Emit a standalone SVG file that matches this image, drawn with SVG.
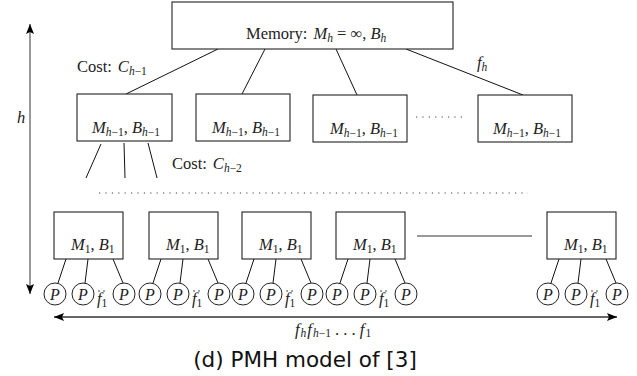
<svg xmlns="http://www.w3.org/2000/svg" width="637" height="376" viewBox="0 0 637 376">
<style>
.box{fill:#fff;stroke:#222;stroke-width:1.1}
.cn{stroke:#111;stroke-width:1;fill:none}
.gr{stroke:#777;stroke-width:1.5;fill:none}
.m{font-family:"Liberation Serif",serif;font-style:italic;font-size:16.5px;fill:#222}
.r{font-style:normal}
.s{font-size:11.5px}
.pc{fill:#fff;stroke:#222;stroke-width:1}
.pt{font-family:"Liberation Serif",serif;font-style:italic;font-size:16px;fill:#222;text-anchor:middle}
.dot{stroke:#444;stroke-width:1.2;stroke-dasharray:1.2 5.2;fill:none}
.cap{font-family:"DejaVu Sans",sans-serif;font-size:21.5px;fill:#111;text-anchor:middle}
</style>
<defs>
<marker id="ah" viewBox="0 0 10 8" refX="10" refY="4" markerWidth="10" markerHeight="8" orient="auto-start-reverse" markerUnits="userSpaceOnUse">
<path d="M0,0 L10,4 L0,8 L2,4 z" fill="#000"/>
</marker>
<g id="pset">
<circle class="pc" cx="1" cy="294" r="11"/><text class="pt" x="1" y="299.5">P</text>
<circle class="pc" cx="29" cy="294" r="11"/><text class="pt" x="29" y="299.5">P</text>
<circle class="pc" cx="70" cy="294" r="11"/><text class="pt" x="70" y="299.5">P</text>
</g>
</defs>

<g id="connectors">
<line class="cn" x1="218" y1="49" x2="126" y2="94"/>
<line class="cn" x1="265" y1="49" x2="242" y2="94"/>
<line class="cn" x1="336" y1="49" x2="357" y2="95"/>
<line class="cn" x1="406" y1="49" x2="523" y2="95"/>
<line class="cn" x1="101" y1="144" x2="86" y2="178"/>
<line class="cn" x1="124" y1="143" x2="125" y2="178"/>
<line class="cn" x1="148" y1="143" x2="157" y2="178"/>
<g id="c1">
<line class="cn" x1="66" y1="259" x2="58" y2="283"/>
<line class="cn" x1="88" y1="259" x2="85" y2="283"/>
<line class="cn" x1="113" y1="259" x2="123" y2="283"/>
</g>
<use href="#c1" x="95"/>
<use href="#c1" x="188"/>
<use href="#c1" x="282"/>
<use href="#c1" x="493"/>
<line class="gr" x1="417" y1="236" x2="532" y2="236"/>
<line class="gr" x1="30" y1="24" x2="30" y2="294" marker-start="url(#ah)" marker-end="url(#ah)"/>
<line x1="54" y1="317" x2="617" y2="317" style="stroke:#333;stroke-width:1.3" marker-start="url(#ah)" marker-end="url(#ah)"/>
<line class="dot" x1="99" y1="193" x2="528" y2="193"/>
<line class="dot" x1="416" y1="117" x2="464" y2="117"/>
</g>

<g id="memory">
<rect class="box" x="172" y="2" width="281" height="47"/>
<text class="m" x="246" y="39"><tspan class="r">Memory:</tspan><tspan dx="6">M</tspan><tspan class="s" dy="3">h</tspan><tspan class="r" dy="-3"> = ∞, </tspan>B<tspan class="s" dy="3">h</tspan></text>
</g>

<g id="l2a">
<rect class="box" x="77" y="94" width="95" height="47"/>
<text class="m" x="92" y="133">M<tspan class="s" dy="3">h<tspan class="r">−1</tspan></tspan><tspan class="r" dy="-3">, </tspan>B<tspan class="s" dy="3">h<tspan class="r">−1</tspan></tspan></text>
</g>
<g id="l2b">
<rect class="box" x="196" y="94" width="94" height="47"/>
<text class="m" x="212" y="133">M<tspan class="s" dy="3">h<tspan class="r">−1</tspan></tspan><tspan class="r" dy="-3">, </tspan>B<tspan class="s" dy="3">h<tspan class="r">−1</tspan></tspan></text>
</g>
<g id="l2c">
<rect class="box" x="313" y="95" width="94" height="47"/>
<text class="m" x="330" y="134">M<tspan class="s" dy="3">h<tspan class="r">−1</tspan></tspan><tspan class="r" dy="-3">, </tspan>B<tspan class="s" dy="3">h<tspan class="r">−1</tspan></tspan></text>
</g>
<g id="l2d">
<rect class="box" x="478" y="95" width="94" height="47"/>
<text class="m" x="493" y="134">M<tspan class="s" dy="3">h<tspan class="r">−1</tspan></tspan><tspan class="r" dy="-3">, </tspan>B<tspan class="s" dy="3">h<tspan class="r">−1</tspan></tspan></text>
</g>

<g id="l1a">
<rect class="box" x="54" y="212" width="69" height="47"/>
<text class="m" x="71" y="250">M<tspan class="s r" dy="3">1</tspan><tspan class="r" dy="-3">, </tspan>B<tspan class="s r" dy="3">1</tspan></text>
<use href="#pset" x="54"/>
<text class="m" x="97" y="304" font-size="14">f<tspan class="s r" dy="3">1</tspan></text>
<circle cx="99" cy="291" r="0.8" fill="#333"/><circle cx="104" cy="291" r="0.8" fill="#333"/>
</g>
<g id="l1b">
<rect class="box" x="149" y="212" width="69" height="47"/>
<text class="m" x="166" y="250">M<tspan class="s r" dy="3">1</tspan><tspan class="r" dy="-3">, </tspan>B<tspan class="s r" dy="3">1</tspan></text>
<use href="#pset" x="149"/>
<text class="m" x="192" y="304" font-size="14">f<tspan class="s r" dy="3">1</tspan></text>
<circle cx="194" cy="291" r="0.8" fill="#333"/><circle cx="199" cy="291" r="0.8" fill="#333"/>
</g>
<g id="l1c">
<rect class="box" x="242" y="212" width="69" height="47"/>
<text class="m" x="259" y="250">M<tspan class="s r" dy="3">1</tspan><tspan class="r" dy="-3">, </tspan>B<tspan class="s r" dy="3">1</tspan></text>
<use href="#pset" x="242"/>
<text class="m" x="285" y="304" font-size="14">f<tspan class="s r" dy="3">1</tspan></text>
<circle cx="287" cy="291" r="0.8" fill="#333"/><circle cx="292" cy="291" r="0.8" fill="#333"/>
</g>
<g id="l1d">
<rect class="box" x="336" y="212" width="69" height="47"/>
<text class="m" x="353" y="250">M<tspan class="s r" dy="3">1</tspan><tspan class="r" dy="-3">, </tspan>B<tspan class="s r" dy="3">1</tspan></text>
<use href="#pset" x="336"/>
<text class="m" x="379" y="304" font-size="14">f<tspan class="s r" dy="3">1</tspan></text>
<circle cx="381" cy="291" r="0.8" fill="#333"/><circle cx="386" cy="291" r="0.8" fill="#333"/>
</g>
<g id="l1e">
<rect class="box" x="547" y="212" width="69" height="47"/>
<text class="m" x="564" y="250">M<tspan class="s r" dy="3">1</tspan><tspan class="r" dy="-3">, </tspan>B<tspan class="s r" dy="3">1</tspan></text>
<use href="#pset" x="547"/>
<text class="m" x="590" y="304" font-size="14">f<tspan class="s r" dy="3">1</tspan></text>
<circle cx="592" cy="291" r="0.8" fill="#333"/><circle cx="597" cy="291" r="0.8" fill="#333"/>
</g>

<g id="labels">
<text class="m" x="77" y="72" font-size="15"><tspan class="r">Cost:</tspan><tspan dx="6">C</tspan><tspan class="s" dy="3">h<tspan class="r">−1</tspan></tspan></text>
<text class="m" x="172" y="169" font-size="15"><tspan class="r">Cost:</tspan><tspan dx="6">C</tspan><tspan class="s" dy="3">h<tspan class="r">−2</tspan></tspan></text>
<text class="m" x="477" y="68" font-size="15">f<tspan class="s" dy="3">h</tspan></text>
<text class="m" x="17" y="123" font-size="15">h</text>
<text class="m" x="295" y="335" font-size="13.5">f<tspan class="s" dx="1" dy="2">h</tspan><tspan dx="1" dy="-2">f</tspan><tspan class="s" dx="1" dy="2">h<tspan class="r">−1</tspan></tspan><tspan class="r" dy="-2"> . . . </tspan>f<tspan class="s r" dx="1" dy="2">1</tspan></text>
<text class="cap" x="305" y="367">(d) PMH model of [3]</text>
</g>
</svg>
